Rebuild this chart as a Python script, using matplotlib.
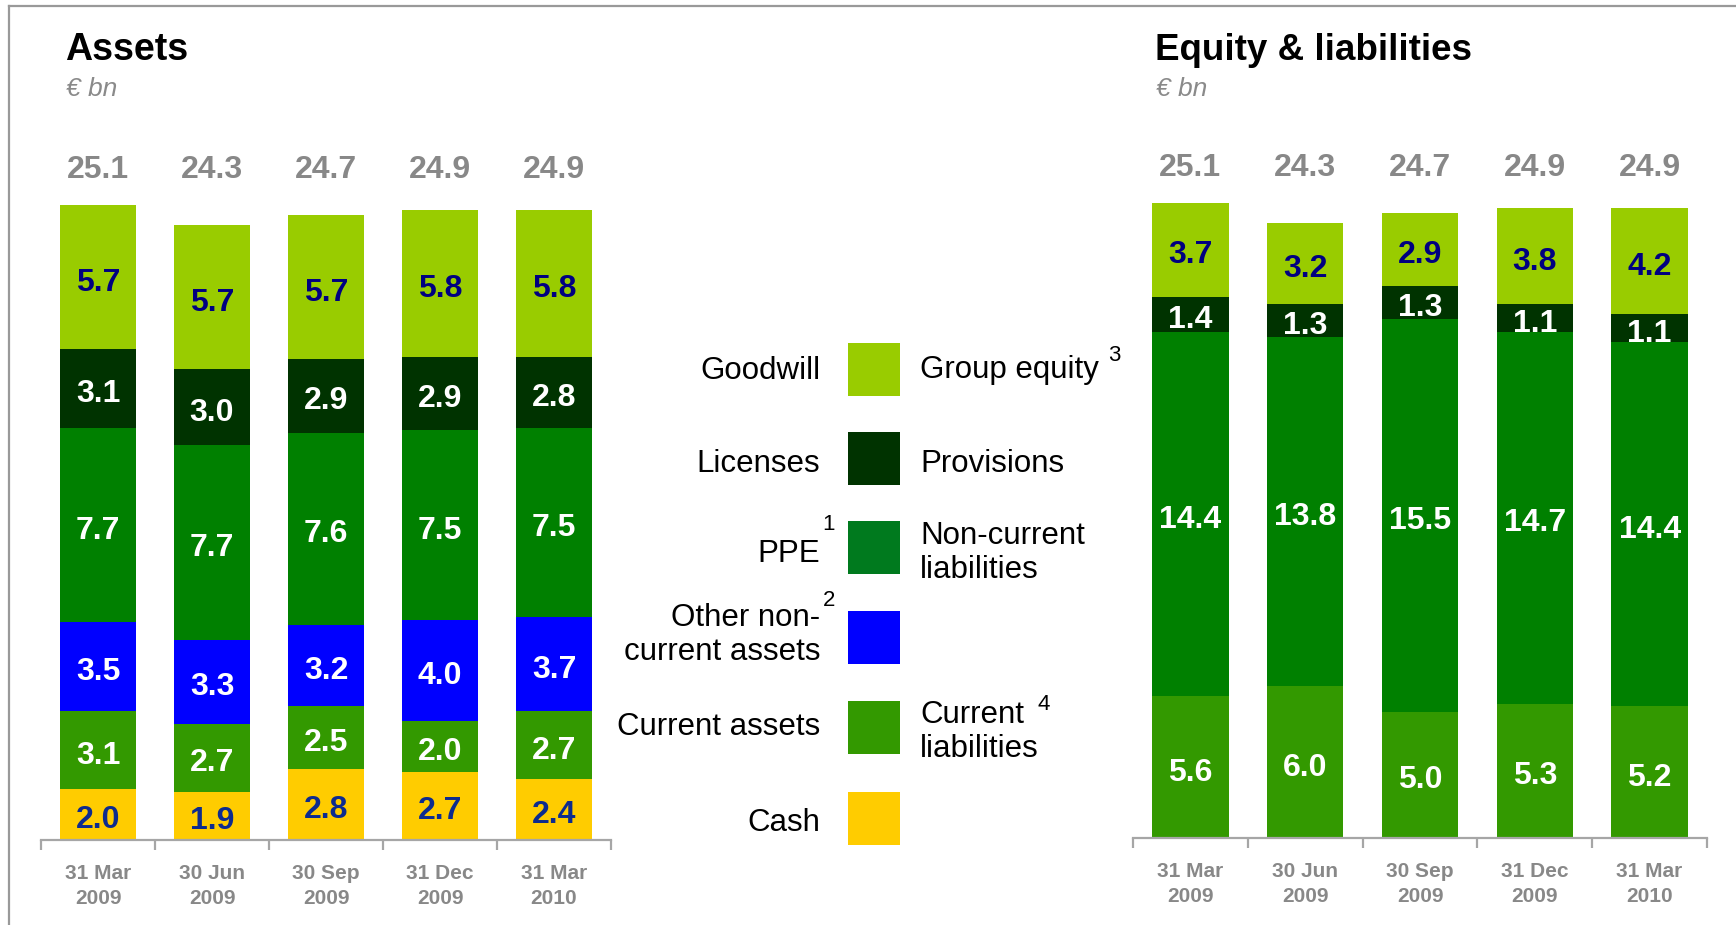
import matplotlib
matplotlib.use("Agg")
import matplotlib.pyplot as plt
import matplotlib.transforms as mtransforms
from matplotlib.lines import Line2D
from matplotlib.patches import Rectangle
import numpy as np

plt.rcParams['font.family'] = ['Liberation Sans', 'DejaVu Sans']

# ---------------- data ----------------
dates = ["31 Mar\n2009", "30 Jun\n2009", "30 Sep\n2009", "31 Dec\n2009", "31 Mar\n2010"]

# Assets (bottom -> top)
cash = [2.0, 1.9, 2.8, 2.7, 2.4]
current_assets = [3.1, 2.7, 2.5, 2.0, 2.7]
other_nca = [3.5, 3.3, 3.2, 4.0, 3.7]
ppe = [7.7, 7.7, 7.6, 7.5, 7.5]
licenses = [3.1, 3.0, 2.9, 2.9, 2.8]
goodwill = [5.7, 5.7, 5.7, 5.8, 5.8]
asset_totals = [25.1, 24.3, 24.7, 24.9, 24.9]

# Equity & liabilities (bottom -> top)
current_liab = [5.6, 6.0, 5.0, 5.3, 5.2]
noncurrent_liab = [14.4, 13.8, 15.5, 14.7, 14.4]
provisions = [1.4, 1.3, 1.3, 1.1, 1.1]
group_equity = [3.7, 3.2, 2.9, 3.8, 4.2]
liab_totals = [25.1, 24.3, 24.7, 24.9, 24.9]

# ---------------- styles ----------------
C_GOODWILL = "#99cc00"
C_LIC = "#003300"
C_PPE = "#008000"
C_PPE_SW = "#007a1e"
C_OTHER = "#0000ff"
C_CUR = "#339900"
C_CASH = "#ffcc00"
NAVY = "#000080"
NAVY2 = "#0d2b8e"
GRAY = "#888888"
AXGRAY = "#a6a6a6"

W, H = 1736, 925
fig = plt.figure(figsize=(W / 100, H / 100), dpi=100)
fig.patch.set_facecolor("white")


def fx(x):
    return x / W


def fy(y):
    return 1 - y / H


# frame lines
fig.add_artist(Line2D([fx(9), 1.0], [fy(5.5), fy(5.5)], color="#999999", lw=1.6))
fig.add_artist(Line2D([fx(9), fx(9)], [fy(5.5), 0.0], color="#999999", lw=1.6))

PX_PER_UNIT = 25.3
LABEL_SHIFT = 5.5 / PX_PER_UNIT   # optical centring of digits


def make_axes(x0, x1, base):
    ax = fig.add_axes([fx(x0), fy(base), (x1 - x0) / W, 700 / H])
    ax.set_xlim(-0.5, 4.5)
    ax.set_ylim(0, 700 / PX_PER_UNIT)
    for s in ["left", "right", "top"]:
        ax.spines[s].set_visible(False)
    ax.spines["bottom"].set_color(AXGRAY)
    ax.spines["bottom"].set_linewidth(1.6)
    ax.set_yticks([])
    ax.set_xticks(range(len(dates)))
    ax.set_xticklabels(dates, fontsize=15, fontweight="bold", color=GRAY, linespacing=1.4)
    ax.set_xticks(np.arange(-0.5, len(dates), 1.0), minor=True)
    ax.tick_params(axis="x", which="major", length=0, pad=17)
    ax.tick_params(axis="x", which="minor", length=7, width=1.6, color=AXGRAY, direction="out")
    ax.set_facecolor("none")
    return ax


def draw_stack(ax, series, colors, label_colors, totals):
    x = np.arange(len(dates))
    bottom = np.zeros(len(dates))
    for vals, col, lc in zip(series, colors, label_colors):
        vals = np.array(vals)
        ax.bar(x, vals, bottom=bottom, width=0.667, color=col, edgecolor="none")
        for xi, b, v in zip(x, bottom, vals):
            ax.text(xi, b + v / 2 - LABEL_SHIFT, f"{v:.1f}", ha="center", va="center",
                    fontsize=23, fontweight="bold", color=lc)
        bottom = bottom + vals
    trans = mtransforms.blended_transform_factory(ax.transData, ax.transAxes)
    for xi, t in zip(x, totals):
        ax.text(xi, 0.957, f"{t:.1f}", ha="center", va="center", transform=trans,
                fontsize=23, fontweight="bold", color=GRAY)


axL = make_axes(41, 611, 840)
draw_stack(axL,
           [cash, current_assets, other_nca, ppe, licenses, goodwill],
           [C_CASH, C_CUR, C_OTHER, C_PPE, C_LIC, C_GOODWILL],
           [NAVY2, "white", "white", "white", "white", NAVY],
           asset_totals)

axR = make_axes(1133, 1707, 838)
draw_stack(axR,
           [current_liab, noncurrent_liab, provisions, group_equity],
           [C_CUR, C_PPE, C_LIC, C_GOODWILL],
           ["white", "white", "white", NAVY],
           liab_totals)

# titles
fig.text(fx(65), fy(50), "Assets", fontsize=27, fontweight="bold", color="black",
         ha="left", va="center")
fig.text(fx(66), fy(89), "€ bn", fontsize=19, style="italic", color="#8a8a8a",
         ha="left", va="center")
fig.text(fx(1155), fy(50), "Equity & liabilities", fontsize=26.5, fontweight="bold",
         color="black", ha="left", va="center")
fig.text(fx(1156), fy(89), "€ bn", fontsize=19, style="italic", color="#8a8a8a",
         ha="left", va="center")

# legend
sw_colors = [C_GOODWILL, C_LIC, C_PPE_SW, C_OTHER, C_CUR, C_CASH]
sw_tops = [343, 432, 521, 611, 701, 792]
for c, t in zip(sw_colors, sw_tops):
    fig.add_artist(Rectangle((fx(848), fy(t + 53)), 52 / W, 53 / H, transform=fig.transFigure,
                             facecolor=c, edgecolor="none"))

LFS = 22.5
SFS = 16
LS = 1.14
left_labels = [("Goodwill", 371), ("Licenses", 464), ("PPE", 554),
               ("Other non-\ncurrent assets", 635), ("Current assets", 727), ("Cash", 823)]
for txt, y in left_labels:
    fig.text(fx(820), fy(y), txt, fontsize=LFS, ha="right", va="center",
             multialignment="right", color="black", linespacing=LS)
fig.text(fx(829), fy(525), "1", fontsize=SFS, ha="center", va="center")
fig.text(fx(829), fy(601), "2", fontsize=SFS, ha="center", va="center")

right_labels = [("Group equity", 370), ("Provisions", 464),
                ("Non-current\nliabilities", 553), ("Current\nliabilities", 732)]
for txt, y in right_labels:
    fig.text(fx(920), fy(y), txt, fontsize=LFS, ha="left", va="center",
             multialignment="left", color="black", linespacing=LS)
fig.text(fx(1114), fy(355), "3", fontsize=SFS, ha="center", va="center")
fig.text(fx(1044), fy(704), "4", fontsize=SFS, ha="center", va="center")

fig.savefig("out.png", dpi=100, facecolor="white")
